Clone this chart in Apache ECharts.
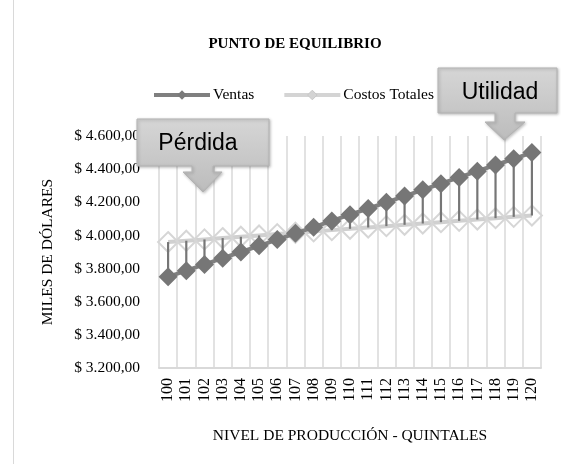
<!DOCTYPE html>
<html>
<head>
<meta charset="utf-8">
<script src="https://cdn.jsdelivr.net/npm/echarts@6/dist/echarts.min.js"></script>
<style>
  html, body { margin: 0; padding: 0; background: #fff; }
  #main { width: 561px; height: 464px; }
</style>
</head>
<body>
<div id="main"></div>
<script>
// niveles de producción (quintales)
var niveles = ['100', '101', '102', '103', '104', '105', '106', '107', '108', '109', '110',
               '111', '112', '113', '114', '115', '116', '117', '118', '119', '120'];
// miles de dólares
var ventas = [3750, 3787.5, 3825, 3862.5, 3900, 3937.5, 3975, 4012.5, 4050, 4087.5, 4125,
              4162.5, 4200, 4237.5, 4275, 4312.5, 4350, 4387.5, 4425, 4462.5, 4500];
var costosTotales = [3960, 3968, 3976, 3984, 3992, 4000, 4008, 4016, 4024, 4032, 4040,
                     4048, 4056, 4064, 4072, 4080, 4088, 4096, 4104, 4112, 4120];

var serif = '"Liberation Serif", "Times New Roman", serif';
var sans = '"Liberation Sans", Arial, sans-serif';

// formato $ 4.600,00
function dinero(v) {
    var s = Math.round(v).toString().replace(/\B(?=(\d{3})+(?!\d))/g, '.');
    return '$ ' + s + ',00';
}

// líneas máximo-mínimo entre ventas y costos
var lineasHL = niveles.map(function (n, i) {
    return [i, ventas[i], costosTotales[i]];
});

var relleno = new echarts.graphic.LinearGradient(0, 0, 0, 1, [
    { offset: 0, color: '#d6d6d6' },
    { offset: 1, color: '#bcbcbc' }
]);

var myChart = echarts.init(document.getElementById('main'));
var option = {
    animation: false,
    backgroundColor: '#fff',
    title: {
        text: 'PUNTO DE EQUILIBRIO',
        left: 290,
        top: 32,
        textAlign: 'center',
        textStyle: { fontFamily: serif, fontSize: 15, fontWeight: 'bold', color: '#000' }
    },
    legend: {
        data: [
            { name: 'Ventas',
              itemStyle: { color: '#7a7a7a' }, lineStyle: { color: '#7f7f7f', width: 4 } },
            { name: 'Costos Totales',
              itemStyle: { color: '#d4d4d4', borderColor: '#c8c8c8', borderWidth: 1 },
              lineStyle: { color: '#d4d4d4', width: 4 } }
        ],
        left: 147,
        top: 82,
        itemWidth: 56,
        itemHeight: 12,
        itemGap: 28,
        textStyle: { fontFamily: serif, fontSize: 15.5, color: '#000', padding: [0, 0, 0, -2] }
    },
    grid: { left: 159, right: 20, top: 136, bottom: 96 },
    xAxis: {
        type: 'category',
        data: niveles,
        boundaryGap: true,
        name: 'NIVEL DE PRODUCCIÓN - QUINTALES',
        nameLocation: 'middle',
        nameGap: 60,
        nameTextStyle: { fontFamily: serif, fontSize: 15.5, color: '#000' },
        axisLine: { lineStyle: { color: '#d9d9d9', width: 2 } },
        axisTick: { show: false },
        axisLabel: { rotate: 90, margin: 10, interval: 0, fontFamily: serif, fontSize: 16, color: '#000' },
        splitLine: { show: true, lineStyle: { color: '#d9d9d9', width: 1.5 } }
    },
    yAxis: {
        type: 'value',
        min: 3200,
        max: 4600,
        interval: 200,
        name: 'MILES DE DÓLARES',
        nameLocation: 'middle',
        nameRotate: 90,
        nameGap: 103,
        nameTextStyle: { fontFamily: serif, fontSize: 15.5, color: '#000' },
        axisLine: { show: false },
        axisTick: { show: false },
        splitLine: { show: false },
        axisLabel: { formatter: dinero, margin: 19, fontFamily: serif, fontSize: 15.5, color: '#000' }
    },
    series: [
        {
            name: 'Costos Totales',
            type: 'line',
            data: costosTotales,
            symbol: 'diamond',
            symbolSize: 20,
            z: 2,
            lineStyle: { color: '#d0d0d0', width: 4 },
            itemStyle: { color: 'rgba(255,255,255,0)', borderColor: '#d6d6d6', borderWidth: 2 }
        },
        {
            name: 'hl',
            type: 'custom',
            data: lineasHL,
            z: 3,
            renderItem: function (params, api) {
                var x = api.value(0);
                var p1 = api.coord([x, api.value(1)]);
                var p2 = api.coord([x, api.value(2)]);
                return {
                    type: 'line',
                    shape: { x1: p1[0], y1: p1[1], x2: p2[0], y2: p2[1] },
                    style: { stroke: '#767676', lineWidth: 2.2 }
                };
            }
        },
        {
            name: 'Ventas',
            type: 'line',
            data: ventas,
            symbol: 'diamond',
            symbolSize: 19,
            z: 4,
            lineStyle: { color: '#7f7f7f', width: 4 },
            itemStyle: { color: '#767676', borderColor: '#767676', borderWidth: 0 }
        }
    ],
    graphic: [
        // borde del área del gráfico
        {
            type: 'line', shape: { x1: 13.5, y1: 0, x2: 13.5, y2: 464 },
            style: { stroke: '#d9d9d9', lineWidth: 1 }, z: 1
        },
        // llamada "Pérdida"
        {
            type: 'polygon', z: 100,
            shape: { points: [[137, 119], [269, 119], [269, 166], [213, 166], [213, 172], [222, 172],
                              [203, 192], [183, 172], [192, 172], [192, 166], [137, 166]] },
            style: { fill: relleno, stroke: '#b3b3b3', lineWidth: 1,
                     shadowBlur: 3, shadowOffsetX: 1, shadowOffsetY: 1, shadowColor: 'rgba(0,0,0,0.25)' }
        },
        {
            type: 'text', z: 101, x: 198, y: 144,
            style: { text: 'Pérdida', fontFamily: sans, fontSize: 23, fill: '#000', align: 'center', verticalAlign: 'middle' }
        },
        // llamada "Utilidad"
        {
            type: 'polygon', z: 100,
            shape: { points: [[438, 68], [557, 68], [557, 113], [515, 113], [515, 122], [525, 122],
                              [504, 140], [485, 122], [495, 122], [495, 113], [438, 113]] },
            style: { fill: relleno, stroke: '#b3b3b3', lineWidth: 1,
                     shadowBlur: 3, shadowOffsetX: 1, shadowOffsetY: 1, shadowColor: 'rgba(0,0,0,0.25)' }
        },
        {
            type: 'text', z: 101, x: 500, y: 93,
            style: { text: 'Utilidad', fontFamily: sans, fontSize: 23, fill: '#000', align: 'center', verticalAlign: 'middle' }
        }
    ]
};
myChart.setOption(option);
</script>
</body>
</html>
